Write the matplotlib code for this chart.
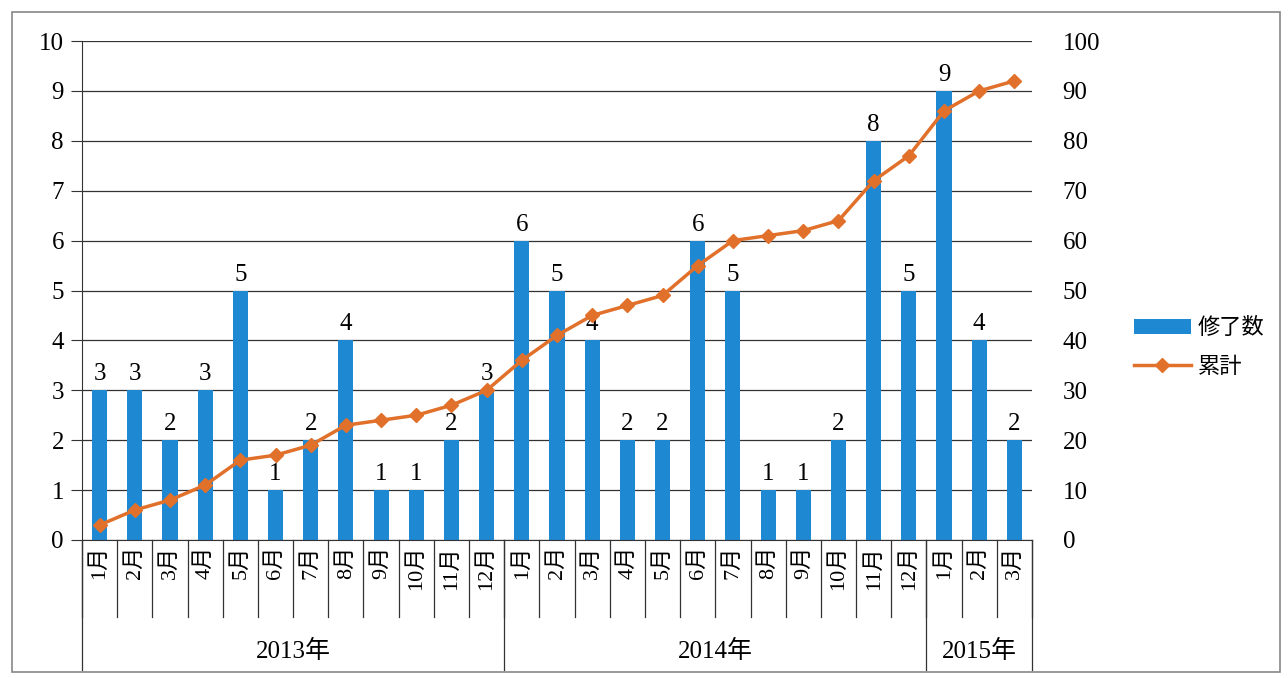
import numpy as np
import matplotlib
matplotlib.use("Agg")
import matplotlib.pyplot as plt
from matplotlib.patches import Rectangle

plt.rcParams['font.family'] = ['Liberation Serif', 'Noto Sans CJK JP', 'DejaVu Sans']

months = ["1月", "2月", "3月", "4月", "5月", "6月", "7月", "8月", "9月", "10月", "11月", "12月",
          "1月", "2月", "3月", "4月", "5月", "6月", "7月", "8月", "9月", "10月", "11月", "12月",
          "1月", "2月", "3月"]
years = ["2013年", "2014年", "2015年"]
year_counts = [12, 12, 3]
completed = [3, 3, 2, 3, 5, 1, 2, 4, 1, 1, 2, 3,
             6, 5, 4, 2, 2, 6, 5, 1, 1, 2, 8, 5,
             9, 4, 2]
cumulative = [3, 6, 8, 11, 16, 17, 19, 23, 24, 25, 27, 30,
              36, 41, 45, 47, 49, 55, 60, 61, 62, 64, 72, 77,
              86, 90, 92]

bar_color = "#1f88d2"
line_color = "#e0702a"

fig = plt.figure(figsize=(12.88, 6.78), dpi=100)
ax = fig.add_axes([82/1288, 1-540/678, (1032-82)/1288, (540-41)/678])
x = np.arange(len(months))

bars = ax.bar(x, completed, width=0.43, color=bar_color, zorder=2, label="修了数")
ax.set_xlim(-0.5, len(months) - 0.5)
ax.set_ylim(0, 10)
ax.set_yticks(range(0, 11))
ax.grid(axis="y", color="#333333", linewidth=0.9, zorder=0)
ax.tick_params(axis="y", length=8, color="#333333", labelsize=18, pad=5)
ax.tick_params(axis="x", length=0, labelbottom=False)
for s in ["top", "right"]:
    ax.spines[s].set_visible(False)
ax.spines["left"].set_color("#333333")
ax.spines["bottom"].set_color("#333333")

for xi, v in zip(x, completed):
    ax.text(xi, v + 0.1, str(v), ha="center", va="bottom", fontsize=18)

ax2 = ax.twinx()
ax2.plot(x, cumulative, color=line_color, marker="D", markersize=7, linewidth=2.5,
         zorder=3, label="累計")
ax2.set_ylim(0, 100)
ax2.set_yticks(range(0, 101, 10))
ax2.tick_params(axis="y", length=0, labelsize=18, pad=22)
for s in ["top", "right", "left", "bottom"]:
    ax2.spines[s].set_visible(False)

# two-level category axis
trans = ax.get_xaxis_transform()
y_month = -0.154
y_year = -0.2605
for b in np.arange(len(months) + 1) - 0.5:
    ax.plot([b, b], [0, y_month], transform=trans, color="#333333", lw=0.9, clip_on=False)
for xi, m in zip(x, months):
    ax.text(xi, -0.012, m, transform=trans, rotation=90, ha="center", va="top", fontsize=16)
start = 0
bounds = [-0.5]
for yname, n in zip(years, year_counts):
    ax.text(start + (n - 1) / 2, -0.224, yname, transform=trans, ha="center", va="center",
            fontsize=18)
    start += n
    bounds.append(start - 0.5)
for b in bounds:
    ax.plot([b, b], [0, y_year], transform=trans, color="#333333", lw=0.9, clip_on=False)

h1, l1 = ax.get_legend_handles_labels()
h2, l2 = ax2.get_legend_handles_labels()
fig.legend(h1 + h2, l1 + l2, loc="center left", bbox_to_anchor=(1118/1288, 1-348/678),
           frameon=False, fontsize=16, handlelength=2.6, labelspacing=0.8, handletextpad=0.3,
           borderpad=0.2)

fig.patches.append(Rectangle((12/1288, 6/678), 1268/1288, 660/678, transform=fig.transFigure,
                             fill=False, edgecolor="#888888", lw=1.2))

fig.savefig("out.png", dpi=100)
